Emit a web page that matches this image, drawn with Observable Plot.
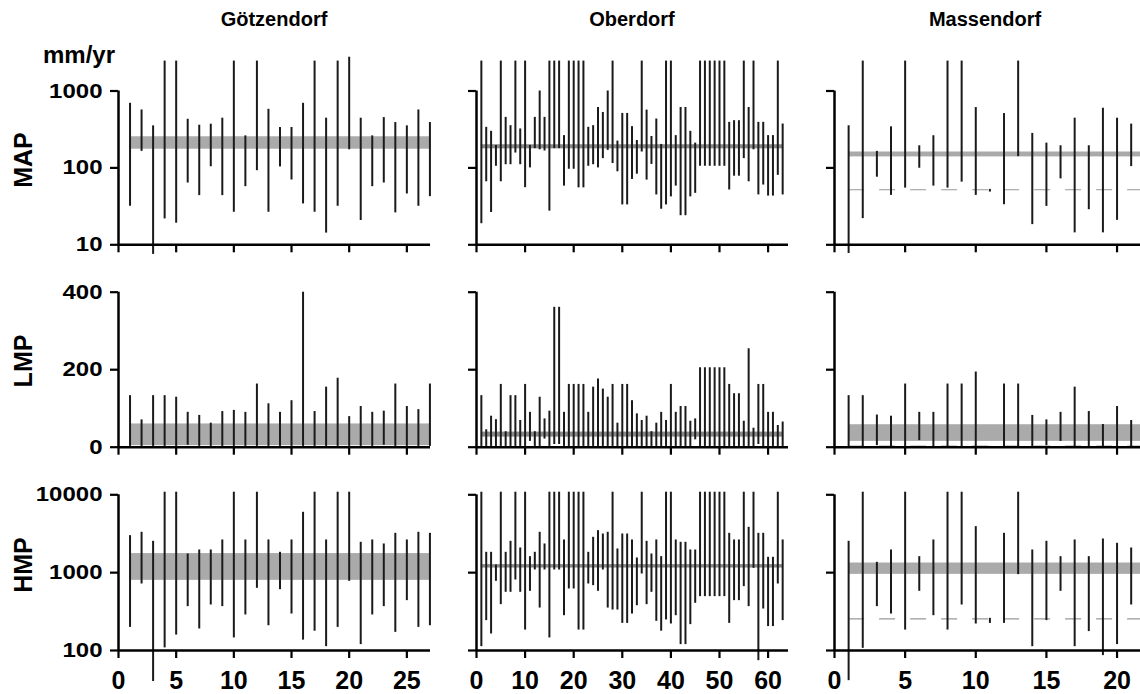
<!DOCTYPE html>
<html><head><meta charset="utf-8">
<script src="https://cdn.jsdelivr.net/npm/d3@7"></script>
<script src="https://cdn.jsdelivr.net/npm/@observablehq/plot@0.6"></script>
<style>
body{margin:0;background:#fff;font-family:"Liberation Sans",Arial,sans-serif;}
#wrap{position:relative;width:1140px;height:694px;overflow:hidden;background:#fff;}
.lbl{position:absolute;font-weight:bold;color:#000;white-space:nowrap;line-height:1;}
</style></head><body><div id="wrap"></div>
<script>
// ---- categories / tick labels ----
const sites = ["Götzendorf", "Oberdorf", "Massendorf"];
const params = ["MAP", "LMP", "HMP"];
const unitLabel = "mm/yr";
const xTicksG = [0, 5, 10, 15, 20, 25];
const xTicksO = [0, 10, 20, 30, 40, 50, 60];
const xTicksM = [0, 5, 10, 15, 20];
const yTicksMAP = [10, 100, 1000];
const yTicksLMP = [0, 200, 400];
const yTicksHMP = [100, 1000, 10000];

// ---- Götzendorf ----
const gMAPhi = [692,567,352,2450,2450,429,359,370,443,2450,261,2450,578,335,335,692,2450,443,2450,2750,443,261,451,389,352,567,389];
const gMAPlo = [31.7,164,7.5,21.7,19.1,63.6,43.6,103.5,43.6,26.5,57,92,26.5,103,69.6,34,26.5,14.2,31.7,172,20.7,57,63.6,26,45.8,31.7,42.3];
const gLMPhi = [133,70.5,133,133,129,90,82,62,92,95,90,163,112,90,120,400,92,155,178,79,105,90,93,163,105,97,163];
const gLMPlo = [2,2,2,2,2,5,2,2,2,2,2,2,2,2,2,2,2,2,2,2,2,2,5,2,2,2,2];
const gHMPhi = [2988,3300,2527,10800,10800,1737,1955,1955,2630,10800,2630,10800,2630,1825,2630,5957,10800,2630,10800,10800,2454,2630,2335,3200,2630,3300,3200];
const gHMPlo = [198,715,40,108,158,366,189,384,366,145,286,629,208,605,294,136,177,112,198,774,119,286,366,171,437,198,208];
const gBandMAP = [175, 254];
const gBandLMP = [4, 60];
const gBandHMP = [796, 1758];

// ---- Oberdorf ----
const oMAPhi = [2450,337,299,196,2450,454,354,2450,321,2450,196,454,1000,454,2450,2450,2450,263,2450,2450,2450,2450,337,354,610,526,1000,2450,223,511,511,344,227,2450,564,256,432,202,2450,2450,263,610,610,299,210,2450,2450,2450,2450,2450,2450,391,411,411,2450,610,2450,391,391,263,263,2450,372];
const oMAPlo = [18.8,66,26.3,105,66,110,110,156,110,55.3,100,178,172,166,27.4,178,178,58,96,96,55,55,105,110,100,132,169,114,89,33,33,70.8,82.8,161,69.4,111,44.5,29,33,42,58,23.9,23.9,42,46.7,105,105,105,105,105,105,51.6,78,78,132,66,172,44.5,59.8,43,43,80,44.5];
const oLMPhi = [133,45,80,71,162,40,133,133,69,162,90,40,129,73,93,361,361,90,162,162,162,162,90,155,176,150,129,162,62,162,162,120,86,69,80,40,62,90,69,162,90,105,105,67,73,205,205,205,205,205,205,162,138,138,67,254,49,162,162,90,90,56,65];
const oLMPlo = [2,2,2,2,2,2,2,2,2,2,15,2,2,21,2,7,7,2,2,2,2,2,2,2,2,2,2,2,2,2,2,2,2,2,2,2,2,2,2,2,2,2,2,2,19,2,2,2,2,2,2,2,2,2,2,2,2,7,2,2,2,2,2];
const oHMPhi = [10800,1825,1825,1254,10800,1825,2527,10800,2074,10800,1605,1825,3300,2335,10800,10800,10800,2630,10800,10800,10800,10800,1825,2844,3463,3137,3300,10800,2015,3137,3137,2630,1544,10800,2527,1737,2630,1605,10800,10800,2630,2454,2454,1955,1955,10800,10800,10800,10800,10800,10800,3200,2630,2630,10800,3823,10800,3200,3200,1574,1574,10800,2630];
const oHMPlo = [112,242,163,774,388,559,559,805,559,183,576,1082,351,1082,145,1082,1082,280,617,617,183,183,715,681,576,1082,351,331,331,223,223,294,376,961,388,559,237,177,247,219,280,119,119,215,404,492,492,492,492,492,492,223,437,437,661,366,1137,74,341,203,203,715,242];
const oBandMAP = [177, 200];
const oBandLMP = [26, 39];
const oBandHMP = [1146, 1268];

// ---- Massendorf ----
const mMAPhi = [353,2450,164,342,2450,194,262,2450,2450,609,52.5,509,2450,281,210,194,443,194,597,443,371];
const mMAPlo = [7.7,21.9,75.7,43.9,54.6,99,58,54.6,65.3,43.9,48.5,33.2,140,18.3,31.6,72,14.3,28.6,14.3,20.8,104];
const mLMPhi = [133,133,83,80,163,90,90,163,163,194,2,163,163,82,70.5,90,155,92,58.5,105,69];
const mLMPlo = [0,0,4,0,0,17,0,0,0,0,0,0,0,0,4,15,0,0,0,0,0];
const mHMPhi = [2527,10800,1358,1955,10800,1605,2630,10800,10800,3899,259,3200,10800,1955,2527,1605,2630,1605,2707,2382,2074];
const mHMPlo = [41,106.6,366,294,183,576,280,183,384,219,223,223,943,112,242,576,112,175,86,119,384];
const mBandMAP = [139, 161];
const mBandLMP = [15, 58];
const mBandHMP = [951, 1330];
const mRefMAP = 52;
const mRefLMP = 2;
const mRefHMP = 255;

// ---- layout (not data) ----
const cols = [
  {left: 60,  width: 390, ml: 58, mr: 20, xmax: 27.05, ticks: xTicksG, showY: true,  bandColor: "#aaaaaa", bandToEdge: false},
  {left: 450, width: 345, ml: 26, mr: 7,  xmax: 64.2,  ticks: xTicksO, showY: false, bandColor: "#8a8a8a", bandToEdge: false},
  {left: 790, width: 350, ml: 44, mr: 0,  xmax: 21.66, ticks: xTicksM, showY: false, bandColor: "#aaaaaa", bandToEdge: true}
];
const rowsL = [
  {top: 40,  height: 230, mt: 50.5, mb: 25.7, type: "log",    domain: [10, 1000],   ticks: yTicksMAP, showX: false},
  {top: 270, height: 195, mt: 21.7, mb: 18.3, type: "linear", domain: [0, 400],     ticks: yTicksLMP, showX: false},
  {top: 465, height: 229, mt: 29.3, mb: 44,   type: "log",    domain: [100, 10000], ticks: yTicksHMP, showX: true}
];

const series = [
  [[gMAPlo,gMAPhi,gBandMAP,null],[gLMPlo,gLMPhi,gBandLMP,null],[gHMPlo,gHMPhi,gBandHMP,null]],
  [[oMAPlo,oMAPhi,oBandMAP,null],[oLMPlo,oLMPhi,oBandLMP,null],[oHMPlo,oHMPhi,oBandHMP,null]],
  [[mMAPlo,mMAPhi,mBandMAP,mRefMAP],[mLMPlo,mLMPhi,mBandLMP,mRefLMP],[mHMPlo,mHMPhi,mBandHMP,mRefHMP]]
];

const wrap = document.getElementById("wrap");
const FONT = "'Liberation Sans', Arial, sans-serif";

cols.forEach((c, ci) => {
  rowsL.forEach((r, ri) => {
    const [lo, hi, band, ref] = series[ci][ri];
    const data = hi.map((h, k) => ({i: k + 1, lo: lo[k], hi: h}));
    const first = data[0].i, last = data[data.length - 1].i;
    const bandEnd = c.bandToEdge ? c.xmax : last;
    const yMin = r.domain[0];
    const marks = [
      Plot.rect([band], {x1: () => first, x2: () => bandEnd, y1: d => d[0], y2: d => d[1], fill: c.bandColor}),
    ];
    if (ref != null) {
      marks.push(Plot.ruleY([ref], {x1: () => first, x2: () => c.xmax, stroke: ri === 1 ? "#444" : "#999", strokeWidth: 1.2, strokeDasharray: "16,15"}));
    }
    marks.push(
      Plot.ruleX(data, {x: "i", y1: "lo", y2: "hi", stroke: "#1a1a1a", strokeWidth: 2}),
      Plot.ruleX([0], {stroke: "#000", strokeWidth: 2.5}),
      Plot.ruleY([yMin], {stroke: "#000", strokeWidth: 2.5}),
      Plot.axisY({ticks: r.ticks, tickSize: 8, tickPadding: 8, label: null,
        tickFormat: c.showY ? (d => String(d)) : (() => ""),
        fontSize: 24, fontWeight: "bold", strokeWidth: 2.2}),
      Plot.axisX({ticks: c.ticks, tickSize: 8, tickPadding: 13, label: null,
        tickFormat: r.showX ? (d => String(d)) : (() => ""),
        fontSize: 25, fontWeight: "bold", strokeWidth: 2.2})
    );
    const svg = Plot.plot({
      width: c.width, height: r.height,
      marginLeft: c.ml, marginRight: c.mr, marginTop: r.mt, marginBottom: r.mb,
      x: {domain: [0, c.xmax]},
      y: {type: r.type, domain: r.domain},
      style: {background: "transparent", overflow: "visible", fontFamily: FONT, color: "#000"},
      marks
    });
    // slightly squash y tick labels vertically, as in the source figure
    if (c.showY) {
      svg.querySelectorAll("text").forEach(t => {
        const tr = t.getAttribute("transform");
        const anchor = t.getAttribute("text-anchor") || (t.parentNode && t.parentNode.getAttribute("text-anchor"));
        if (tr && /translate/.test(tr) && anchor === "end") t.setAttribute("transform", tr + " scale(1,0.85)");
      });
    }
    svg.style.position = "absolute";
    svg.style.left = c.left + "px";
    svg.style.top = r.top + "px";
    wrap.appendChild(svg);
  });
});

// titles
const titleX = [274, 632, 985];
sites.forEach((s, k) => {
  const d = document.createElement("div");
  d.className = "lbl";
  d.textContent = s;
  d.style.fontSize = "20px";
  d.style.left = titleX[k] + "px";
  d.style.top = "9px";
  d.style.transform = "translateX(-50%)";
  wrap.appendChild(d);
});
// row labels
const rowY = [160, 361, 565];
params.forEach((p, k) => {
  const d = document.createElement("div");
  d.className = "lbl";
  d.textContent = p;
  d.style.fontSize = "25px";
  d.style.left = "23px";
  d.style.top = rowY[k] + "px";
  d.style.transform = "translate(-50%,-50%) rotate(-90deg)";
  wrap.appendChild(d);
});
// unit
const u = document.createElement("div");
u.className = "lbl";
u.textContent = unitLabel;
u.style.fontSize = "24px";
u.style.left = "43px";
u.style.top = "43px";
wrap.appendChild(u);
</script></body></html>
